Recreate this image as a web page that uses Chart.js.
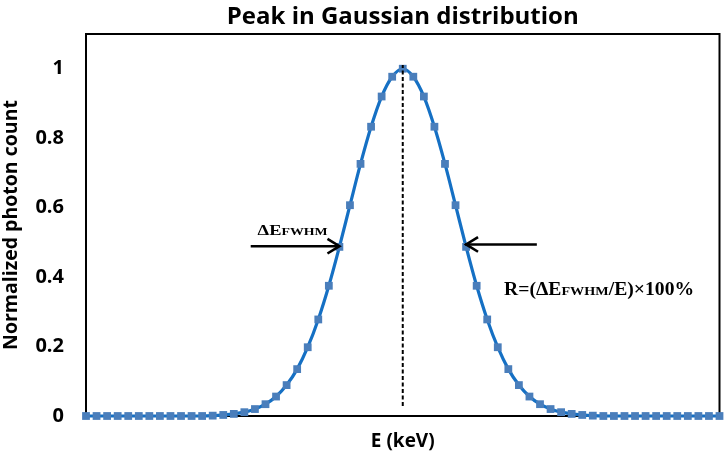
<!DOCTYPE html>
<html>
<head>
<meta charset="utf-8">
<script src="https://cdn.jsdelivr.net/npm/chart.js@4.4.1/dist/chart.umd.min.js"></script>
<style>
  html, body { margin: 0; padding: 0; background: #ffffff; }
  #wrap { width: 725px; height: 453px; position: relative; }
</style>
</head>
<body>
<div id="wrap"><canvas id="c" width="725" height="453"></canvas></div>
<script>
// ---- data ----
const energyIndex = [0,1,2,3,4,5,6,7,8,9,10,11,12,13,14,15,16,17,18,19,20,21,22,23,24,25,26,27,28,29,30,
  31,32,33,34,35,36,37,38,39,40,41,42,43,44,45,46,47,48,49,50,51,52,53,54,55,56,57,58,59,60];
const normalizedCount = [0,0,0,0,0,0,0,0,0,0,0,0,0.001,0.003,0.006,0.011,0.020,0.034,0.056,0.089,
  0.135,0.198,0.278,0.375,0.487,0.607,0.726,0.833,0.920,0.977,1.0,
  0.977,0.920,0.833,0.726,0.607,0.487,0.375,0.278,0.198,0.135,0.089,0.056,0.034,0.020,0.011,0.006,0.003,0.001,
  0,0,0,0,0,0,0,0,0,0,0,0];
const peakMarkerX = [30, 30];
const peakMarkerY = [0.029, 1.011];
const yTickValues = [0, 0.2, 0.4, 0.6, 0.8, 1];
const yTickLabels = ['0', '0.2', '0.4', '0.6', '0.8', '1'];

const curvePoints = energyIndex.map((x, i) => ({ x: x, y: normalizedCount[i] }));
const peakLinePoints = peakMarkerX.map((x, i) => ({ x: x, y: peakMarkerY[i] }));

const BOLD = 'bold';
const SANS = '"Open Sans", Lato, sans-serif';
const SERIF = '"Liberation Serif", "Times New Roman", serif';

const annotations = {
  id: 'annotations',
  beforeDatasetsDraw(chart) {
    const a = chart.chartArea, ctx = chart.ctx;
    ctx.save();
    ctx.strokeStyle = '#000';
    ctx.lineWidth = 2;
    ctx.strokeRect(a.left, a.top, a.right - a.left, a.bottom - a.top);
    ctx.restore();
  },
  afterDatasetsDraw(chart) {
    const ctx = chart.ctx, xs = chart.scales.x, ys = chart.scales.y;
    function arrow(x0, y0, x1, y1) {
      const px0 = xs.getPixelForValue(x0), py0 = ys.getPixelForValue(y0);
      const px1 = xs.getPixelForValue(x1), py1 = ys.getPixelForValue(y1);
      const ang = Math.atan2(py1 - py0, px1 - px0);
      ctx.save();
      ctx.strokeStyle = '#000';
      ctx.lineWidth = 2.6;
      ctx.lineCap = 'butt';
      ctx.lineJoin = 'miter';
      ctx.beginPath();
      ctx.moveTo(px0, py0);
      ctx.lineTo(px1 - 1, py1);
      ctx.stroke();
      const L = 14, W = 0.55;
      ctx.beginPath();
      ctx.moveTo(px1 - L * Math.cos(ang - W), py1 - L * Math.sin(ang - W));
      ctx.lineTo(px1, py1);
      ctx.lineTo(px1 - L * Math.cos(ang + W), py1 - L * Math.sin(ang + W));
      ctx.stroke();
      ctx.restore();
    }
    arrow(15.6, 0.489, 24.0, 0.489);
    arrow(42.7, 0.494, 36.0, 0.494);

    function runs(parts, x, y, targetWidth) {
      ctx.save();
      ctx.fillStyle = '#000';
      ctx.textBaseline = 'alphabetic';
      ctx.textAlign = 'left';
      let natural = 0;
      for (const p of parts) {
        ctx.font = BOLD + ' ' + p[1] + 'px ' + SERIF;
        natural += ctx.measureText(p[0]).width;
      }
      ctx.translate(x, y);
      ctx.scale(targetWidth / natural, 1);
      let cx = 0;
      for (const p of parts) {
        ctx.font = BOLD + ' ' + p[1] + 'px ' + SERIF;
        ctx.fillText(p[0], cx, 0);
        cx += ctx.measureText(p[0]).width;
      }
      ctx.restore();
    }
    runs([['\u0394E', 14], ['FWHM', 10.5]], xs.getPixelForValue(16.25), ys.getPixelForValue(0.521), 70);
    runs([['R=(\u0394E', 18], ['FWHM', 13], ['/E)\u00d7100%', 18]],
         xs.getPixelForValue(39.6), ys.getPixelForValue(0.349), 190);
  }
};

new Chart(document.getElementById('c'), {
  type: 'line',
  data: {
    datasets: [
      {
        data: peakLinePoints,
        borderColor: '#000',
        borderWidth: 2,
        borderDash: [4, 2.5],
        pointRadius: 0,
        order: 0
      },
      {
        data: curvePoints,
        borderColor: '#1570c4',
        borderWidth: 3.2,
        pointStyle: 'rect',
        pointRadius: 5.5,
        pointBackgroundColor: '#4a7ebb',
        pointBorderColor: '#4a7ebb',
        pointBorderWidth: 0,
        tension: 0.4,
        cubicInterpolationMode: 'monotone',
        clip: false,
        order: 1
      }
    ]
  },
  plugins: [annotations],
  options: {
    responsive: false,
    animation: false,
    events: [],
    layout: { padding: { left: 0, right: 3, top: 0, bottom: 0 } },
    plugins: {
      legend: { display: false },
      tooltip: { enabled: false },
      title: {
        display: true,
        fullSize: false,
        text: 'Peak in Gaussian distribution',
        color: '#000',
        font: { family: SANS, size: 24, weight: BOLD, lineHeight: 1.2 },
        padding: { top: 0, bottom: 2 }
      }
    },
    scales: {
      x: {
        type: 'linear',
        min: 0,
        max: 60,
        grid: { display: false, drawTicks: false },
        border: { display: true, color: '#000', width: 2 },
        ticks: { display: false },
        title: {
          display: true,
          text: 'E (keV)',
          color: '#000',
          font: { family: SANS, size: 19, weight: BOLD },
          padding: { top: 10, bottom: 0 }
        },
        afterFit(scale) { scale.height = 37; }
      },
      y: {
        type: 'linear',
        min: 0,
        max: 1.1,
        grid: { display: false, drawTicks: false },
        border: { display: true, color: '#000', width: 2 },
        afterBuildTicks(scale) { scale.ticks = yTickValues.map(v => ({ value: v })); },
        ticks: {
          color: '#000',
          padding: 22,
          font: { family: SANS, size: 20, weight: BOLD },
          callback(value) {
            const i = yTickValues.findIndex(v => Math.abs(v - value) < 1e-9);
            return i >= 0 ? yTickLabels[i] : '';
          }
        },
        title: {
          display: true,
          text: 'Normalized photon count',
          color: '#000',
          font: { family: SANS, size: 19.5, weight: BOLD },
          padding: { top: 0, bottom: 0 }
        },
        afterFit(scale) { scale.width = 86; }
      }
    }
  }
});
</script>
</body>
</html>
